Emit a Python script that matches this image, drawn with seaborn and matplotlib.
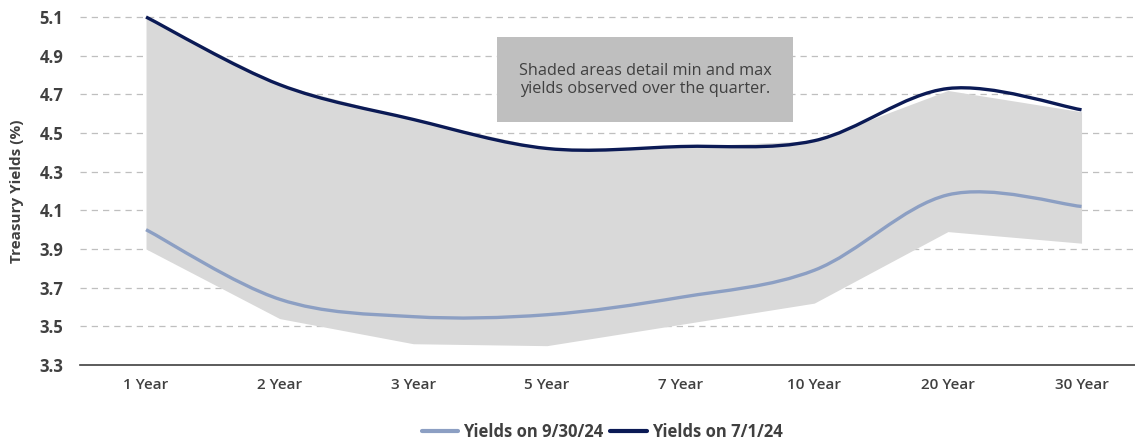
import matplotlib
matplotlib.use("Agg")
import matplotlib.pyplot as plt
from matplotlib.path import Path
from matplotlib.patches import PathPatch, Rectangle
from matplotlib.lines import Line2D
import seaborn as sns
import pandas as pd

# Treasury curve data
maturities = ["1 Year", "2 Year", "3 Year", "5 Year", "7 Year", "10 Year", "20 Year", "30 Year"]
yields_jul = [5.10, 4.75, 4.57, 4.42, 4.43, 4.46, 4.73, 4.62]
yields_sep = [4.00, 3.64, 3.55, 3.56, 3.65, 3.79, 4.18, 4.12]
range_max = [5.10, 4.75, 4.57, 4.42, 4.43, 4.46, 4.72, 4.61]
range_min = [3.90, 3.54, 3.41, 3.40, 3.51, 3.62, 3.99, 3.93]

DARK = "#0b1a55"
LIGHT = "#8c9fc3"
SHADE = "#d9d9d9"
TEXT = "#404040"


def smooth_path(xs, ys):
    """Excel-style smoothed line as a cubic Bezier path through the points."""
    pts = list(zip(xs, ys))
    verts = [pts[0]]
    codes = [Path.MOVETO]
    n = len(pts)
    for i in range(n - 1):
        p0 = pts[i - 1] if i > 0 else pts[i]
        p1 = pts[i]
        p2 = pts[i + 1]
        p3 = pts[i + 2] if i + 2 < n else pts[i + 1]
        c1 = (p1[0] + (p2[0] - p0[0]) / 6, p1[1] + (p2[1] - p0[1]) / 6)
        c2 = (p2[0] - (p3[0] - p1[0]) / 6, p2[1] - (p3[1] - p1[1]) / 6)
        verts += [c1, c2, p2]
        codes += [Path.CURVE4] * 3
    return Path(verts, codes)


df = pd.DataFrame({
    "maturity": maturities,
    "pos": range(len(maturities)),
    "jul": yields_jul,
    "sep": yields_sep,
    "lo": range_min,
    "hi": range_max,
})

sns.set_theme(style="white")
plt.rcParams["font.family"] = ["Open Sans", "DejaVu Sans"]

fig = plt.figure(figsize=(11.35, 4.44), dpi=100)
ax = fig.add_axes([80 / 1135, 1 - 365 / 444, 1 - 80 / 1135, (365 - 17) / 444])

# min/max band
ax.fill_between(df["pos"], df["lo"], df["hi"], color=SHADE, linewidth=0, zorder=1)

# smoothed yield curves
for col, color in [("sep", LIGHT), ("jul", DARK)]:
    patch = PathPatch(smooth_path(df["pos"], df[col]), fill=False, edgecolor=color,
                      linewidth=2.4, capstyle="butt", zorder=3, clip_on=False)
    ax.add_patch(patch)

ax.set_xlim(-0.494, 7.4)
ax.set_ylim(3.3, 5.1)
yt = [3.3 + 0.2 * i for i in range(10)]
ax.set_yticks(yt)
ax.set_yticklabels([f"{v:.1f}" for v in yt])
ax.set_xticks(df["pos"])
ax.set_xticklabels(maturities)

for v in yt[1:]:
    ax.axhline(v, color="#bfbfbf", linewidth=0.9, linestyle=(0, (5, 4)), zorder=0, clip_on=False)

sns.despine(ax=ax, left=True, right=True, top=True)
ax.spines["bottom"].set_color(TEXT)
ax.spines["bottom"].set_linewidth(1.2)
ax.tick_params(axis="both", length=0, colors=TEXT)
ax.tick_params(axis="y", pad=12, labelsize=12)
ax.tick_params(axis="x", pad=9, labelsize=11)
for lab in ax.get_yticklabels():
    lab.set_fontweight("bold")
for lab in ax.get_xticklabels():
    lab.set_fontweight("semibold")

ax.set_ylabel("Treasury Yields (%)", fontsize=11, fontweight="bold", color=TEXT)
ax.yaxis.set_label_coords(-56 / 1055, 0.5)

# note box
fig.patches.append(Rectangle((497 / 1135, 1 - 122 / 444), 296 / 1135, 85 / 444,
                             transform=fig.transFigure, facecolor="#bfbfbf",
                             edgecolor="none", zorder=4))
fig.text(645 / 1135, 1 - 80 / 444,
         "Shaded areas detail min and max\nyields observed over the quarter.",
         ha="center", va="center", fontsize=11.7, color=TEXT, linespacing=1.2,
         zorder=5)

handles = [Line2D([], [], color=LIGHT, linewidth=3), Line2D([], [], color=DARK, linewidth=3)]
fig.legend(handles, ["Yields on 9/30/24", "Yields on 7/1/24"], loc="center",
           bbox_to_anchor=(602 / 1135, 1 - 432 / 444), ncol=2, frameon=False,
           handlelength=2.2, handletextpad=0.3, columnspacing=0.4,
           prop={"size": 12, "weight": "bold"}, labelcolor=TEXT)

fig.savefig("out.png", dpi=100)
